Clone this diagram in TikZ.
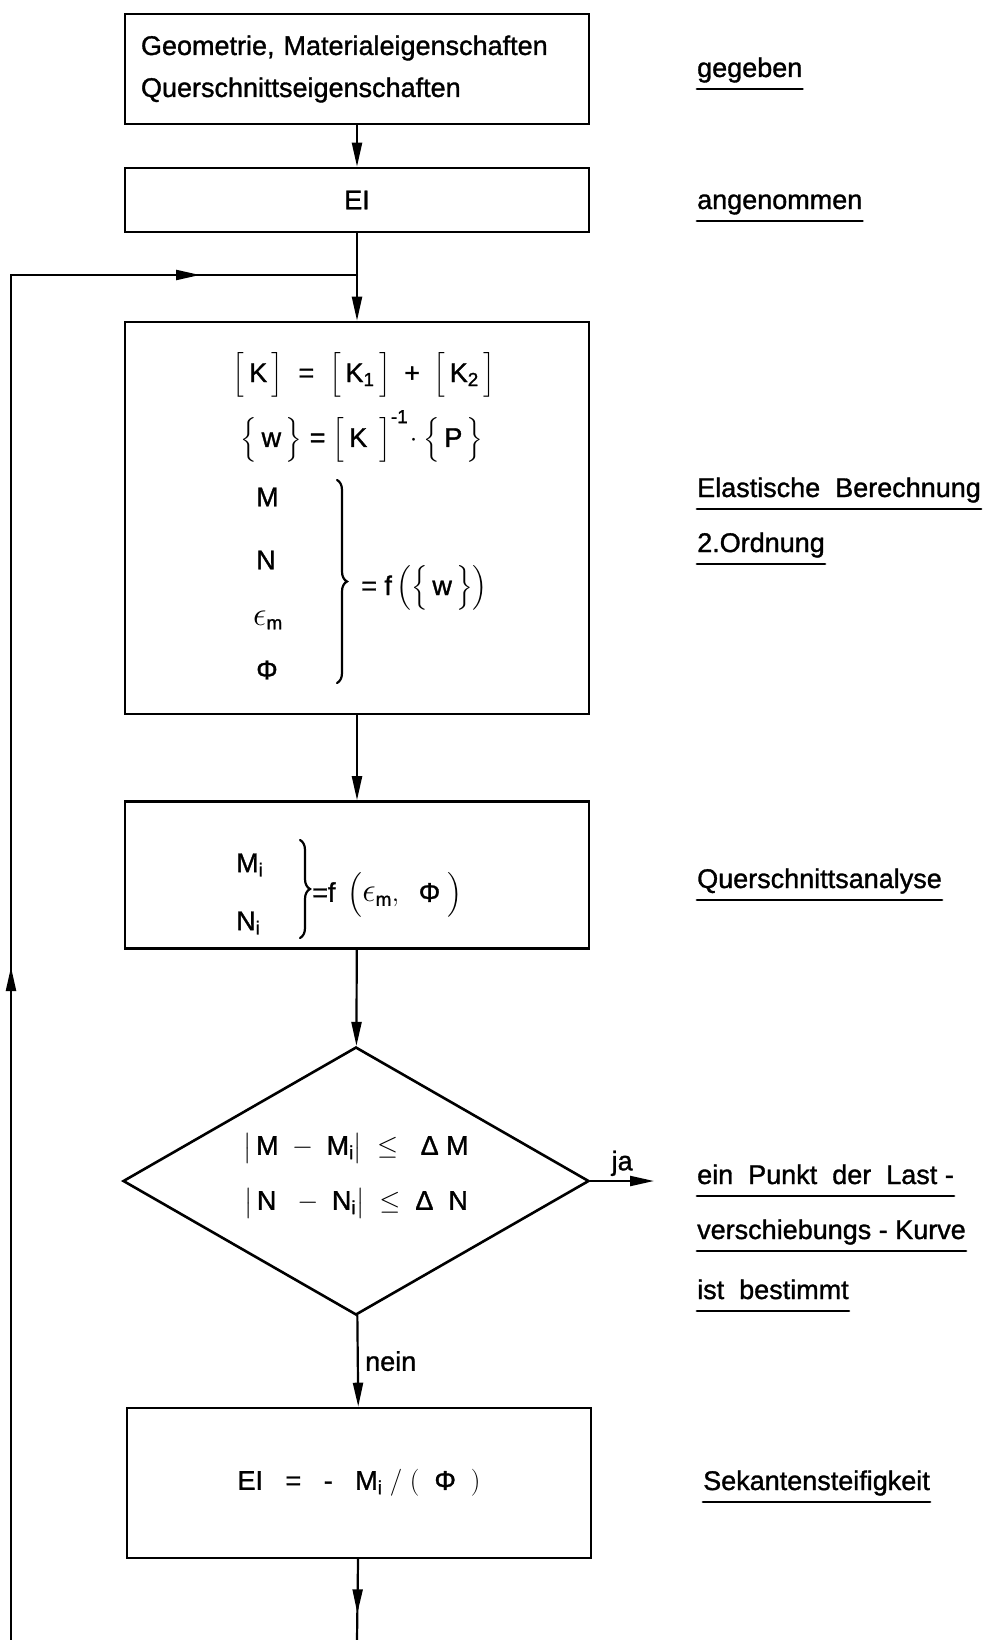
\RequirePackage{fix-cm}
\documentclass[tikz,border=0pt]{standalone}
\usepackage{amsmath}
\usepackage{fontspec}
\setmainfont{Liberation Sans}[UprightFeatures={FakeBold=1.2}]
\usetikzlibrary{arrows.meta, shapes.geometric, decorations.pathreplacing, decorations.markings}

\newcommand{\tx}[1]{\text{#1}}
\newcommand{\tall}{\rule[-17pt]{0pt}{48pt}}
\newcommand{\halftall}{\rule[-12pt]{0pt}{38pt}}
\newcommand{\eps}{\scalebox{1.25}{$\epsilon$}}

\begin{document}
\begin{tikzpicture}[x=1pt, y=1pt, line cap=round,
  every node/.style={font=\fontsize{27}{42}\selectfont},
  box/.style={draw, line width=2.6pt, minimum width=464pt, inner sep=0pt},
  link/.style={line width=2.2pt},
  flow/.style={line width=2.2pt, -{Triangle[length=24pt, width=10pt]}},
  bracket/.style={line width=2.2pt, decorate, decoration={brace, amplitude=10pt}},
  note/.style={anchor=base west, inner sep=0pt},
  uline/.style={line width=2.8pt}]
\useasboundingbox (0,0) rectangle (985,-1640);
% Coordinates
\coordinate (J) at (357,-275);   % joint of the loop
\coordinate (L) at (11,-275);
\coordinate (B) at (11,-1640);
\coordinate (E) at (357,-1640);
\coordinate (Y) at (654,-1181);
% Boxes
\node[box, minimum height=110pt, text width=432pt, inner xsep=16pt, align=left] (given) at (357,-69)
  {Geometrie, Materialeigenschaften\\ Querschnittseigenschaften};
\node[box, minimum height=64pt] (ei) at (357,-200) {EI};
\node[box, minimum height=392pt] (elast) at (357,-518) {};
\node[box, minimum height=147pt] (section) at (357,-875) {};
\node[draw, diamond, line width=2.6pt, minimum width=466pt, minimum height=268pt, inner sep=0pt] (check) at (356,-1181) {};
\node[box, minimum height=150pt] (secant) at (359,-1483)
  {$\tx{EI}\;\;\mathrel{\tx{=}}\;\;\tx{-}\;\;\;\tx{M}_{\tx{i}}\;/\;(\;\;\tx{Φ}\;\;)$};
% ---- Elastic analysis ----
\node (stiff) at (364,-375)
  {$\left[\tall\,\tx{K}\,\right] \;\mathrel{\tx{=}}\; \left[\tall\,\tx{K}_{\tx{1}}\,\right]
    \;\mathbin{\tx{+}}\; \left[\tall\,\tx{K}_{\tx{2}}\,\right]$};
\node (disp) at (362,-437)
  {$\left\{\tall\,\tx{w}\,\right\} \mathrel{\tx{=}} \left[\tall\,\tx{K}\,\;\right]^{\tx{-1}}\!\cdot
    \left\{\tall\,\tx{P}\,\right\}$};
\node[anchor=west, inner sep=0pt] (m) at (256,-497) {M};
\node[anchor=west, inner sep=0pt] (n) at (256,-560) {N};
\node[anchor=west, inner sep=0pt] (eps) at (253,-620) {\eps\textsubscript{m}};
\node[anchor=west, inner sep=0pt] (phi) at (256,-670) {Φ};
\coordinate (Ba) at (337,-480);
\coordinate (Bb) at (337,-683);
\draw[bracket] (Ba) -- (Bb);
\node[anchor=west, inner sep=0pt] (fw) at (361,-588)
  {$\mathrel{\tx{=}}\tx{f}\left(\left\{\tall\,\tx{w}\,\right\}\right)$};
% ---- Cross-section ----
\node[anchor=west, inner sep=0pt] (mi) at (236,-865) {M\textsubscript{i}};
\node[anchor=west, inner sep=0pt] (ni) at (236,-923) {N\textsubscript{i}};
\coordinate (Bc) at (300,-840);
\coordinate (Bd) at (300,-938);
\draw[bracket] (Bc) -- (Bd);
\node[anchor=west, inner sep=0pt] (fe) at (312,-895)
  {$\tx{=}\tx{f}\;\left(\halftall\tx{\eps\textsubscript{m}},\;\;\tx{Φ}\;\right)$};
% ---- Check ----
\node[inner sep=0pt] (crit1) at (356,-1148)
  {$\bigl|\,\tx{M}\;-\;\tx{M}_{\tx{i}}\bigr|\;\leq\;\;\tx{Δ}\;\tx{M}$};
\node[inner sep=0pt] (crit2) at (356,-1203)
  {$\bigl|\,\tx{N}\;\;-\;\tx{N}_{\tx{i}}\bigr|\;\leq\;\tx{Δ}\;\;\tx{N}$};
% Connectors
\draw[flow] (given) -- (ei);
\draw[link] (ei) -- (J);
\draw[flow] (J) -- (elast);
\draw[flow] (elast) -- (section);
\draw[flow] (section) -- (check);
\draw[flow] (check) -- (secant) node[midway, right=3pt] {nein};
\draw[flow] (check.east) -- (Y) node[midway, above, inner sep=4pt] {ja};
\draw[link, postaction={decorate, decoration={markings,
    mark=at position 673pt with {\arrow{Triangle[length=24pt, width=10pt]}},
    mark=at position 1554pt with {\arrow{Triangle[length=24pt, width=10pt]}}}}]
  (B) -- (L) -- (J);
\draw[link, postaction={decorate, decoration={markings,
    mark=at position 54pt with {\arrow{Triangle[length=24pt, width=10pt]}}}}]
  (secant) -- (E);
% Labels
\node[note] (tgiven) at (697,-77) {gegeben};
\node[note] (tassumed) at (697,-209) {angenommen};
\node[note] (telast) at (697,-497) {Elastische\ \ Berechnung};
\node[note] (torder) at (697,-552) {2.Ordnung};
\node[note] (tsection) at (697,-888) {Querschnittsanalyse};
\node[note] (tpointa) at (697,-1184) {ein\ \ Punkt\ \ der\ \ Last -};
\node[note] (tpointb) at (697,-1239) {verschiebungs - Kurve};
\node[note] (tpointc) at (697,-1299) {ist\ \ bestimmt};
\node[note] (tsecant) at (703,-1490) {Sekantensteifigkeit};
\foreach \n in {tgiven, tassumed, telast, torder, tsection, tpointa, tpointb, tpointc, tsecant}
  \draw[uline] ([yshift=-12pt]\n.base west) -- ([yshift=-12pt]\n.base east);
\end{tikzpicture}
\end{document}
